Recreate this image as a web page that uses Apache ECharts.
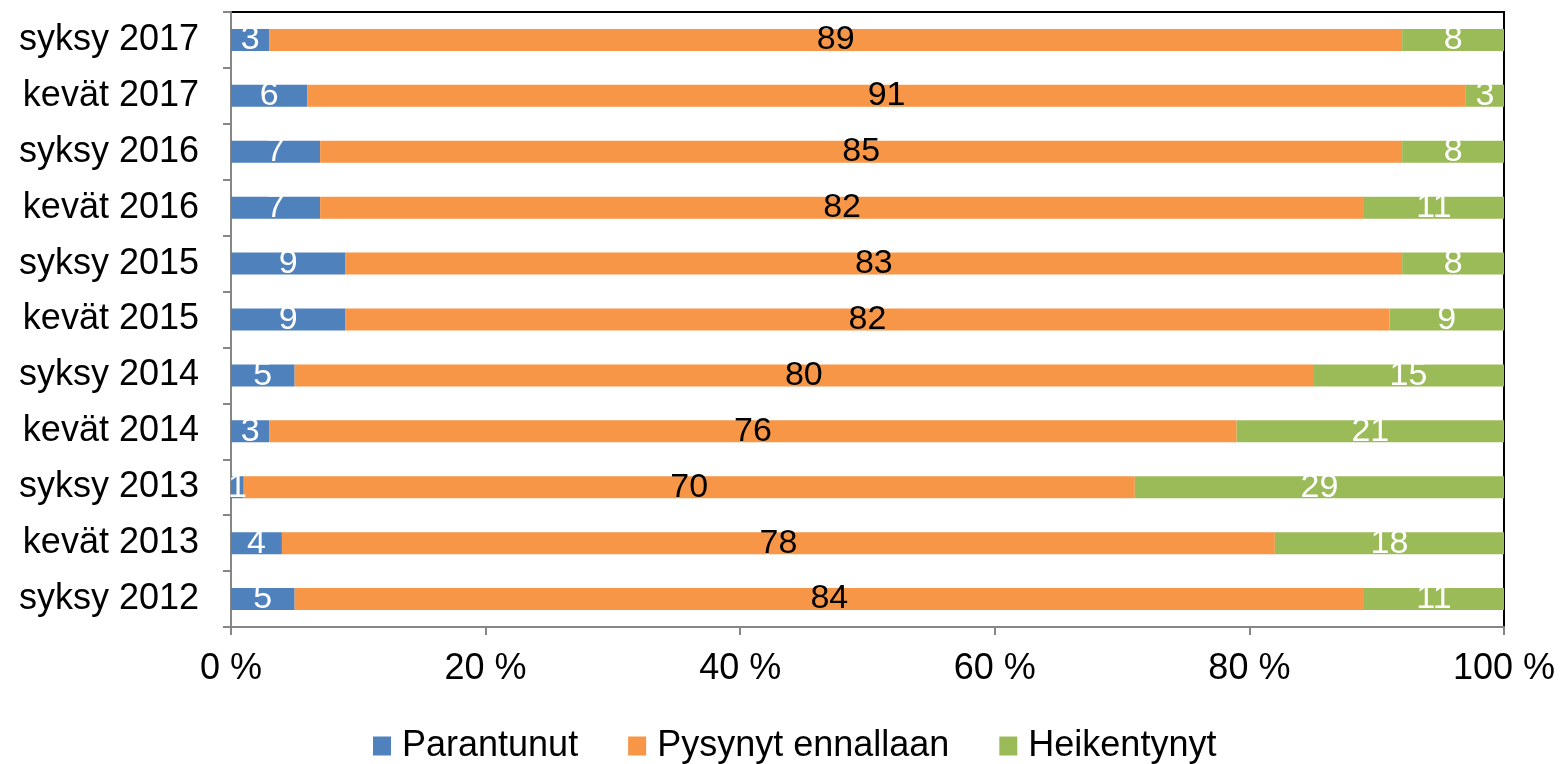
<!DOCTYPE html>
<html>
<head>
<meta charset="utf-8">
<script src="https://cdn.jsdelivr.net/npm/echarts@6/dist/echarts.min.js"></script>
<style>
  html, body { margin: 0; padding: 0; background: #ffffff; }
  #chart { width: 1561px; height: 764px; }
</style>
</head>
<body>
<div id="chart"></div>
<script>
// Survey rounds, listed top to bottom
const categories = [
  'syksy 2017', 'kevät 2017', 'syksy 2016', 'kevät 2016', 'syksy 2015', 'kevät 2015',
  'syksy 2014', 'kevät 2014', 'syksy 2013', 'kevät 2013', 'syksy 2012'
];
const seriesNames = ['Parantunut', 'Pysynyt ennallaan', 'Heikentynyt'];
const improved = [3, 6, 7, 7, 9, 9, 5, 3, 1, 4, 5];
const unchanged = [89, 91, 85, 82, 83, 82, 80, 76, 70, 78, 84];
const weakened = [8, 3, 8, 11, 8, 9, 15, 21, 29, 18, 11];
const xTicks = [0, 20, 40, 60, 80, 100];

const FONT = 'Liberation Sans';
const colors = ['#4F81BD', '#F79646', '#9BBB59'];
const labelColors = ['#ffffff', '#000000', '#ffffff'];
const values = [improved, unchanged, weakened];

const chart = echarts.init(document.getElementById('chart'));
chart.setOption({
  animation: false,
  textStyle: { fontFamily: FONT },
  grid: {
    left: 231, right: 57, top: 12, bottom: 137,
    show: true, borderColor: '#000000', borderWidth: 2, backgroundColor: 'transparent'
  },
  legend: {
    top: 723, left: 368,
    itemWidth: 18, itemHeight: 19, itemGap: 50,
    icon: 'rect',
    textStyle: { fontFamily: FONT, fontSize: 36, color: '#000000', padding: [0, 0, 0, 6] },
    data: seriesNames
  },
  xAxis: {
    type: 'value',
    min: xTicks[0], max: xTicks[xTicks.length - 1], interval: 20,
    axisLine: { show: true, lineStyle: { color: '#868686', width: 2 } },
    axisTick: { show: true, length: 8, lineStyle: { color: '#868686', width: 2 } },
    splitLine: { show: false },
    axisLabel: {
      formatter: '{value} %', fontSize: 36, color: '#000000', margin: 24, fontFamily: FONT
    }
  },
  yAxis: {
    type: 'category',
    data: categories,
    inverse: true,
    axisLine: { show: true, lineStyle: { color: '#868686', width: 2 } },
    axisTick: { show: true, length: 8, alignWithLabel: false, lineStyle: { color: '#868686', width: 2 } },
    axisLabel: { fontSize: 36, color: '#000000', margin: 32, fontFamily: FONT }
  },
  series: seriesNames.map((name, i) => ({
    name: name,
    type: 'bar',
    stack: 'total',
    barWidth: 22,
    data: values[i],
    itemStyle: { color: colors[i] },
    label: {
      show: true, position: 'inside',
      color: labelColors[i], fontSize: 34, fontFamily: FONT
    }
  }))
});
</script>
</body>
</html>
